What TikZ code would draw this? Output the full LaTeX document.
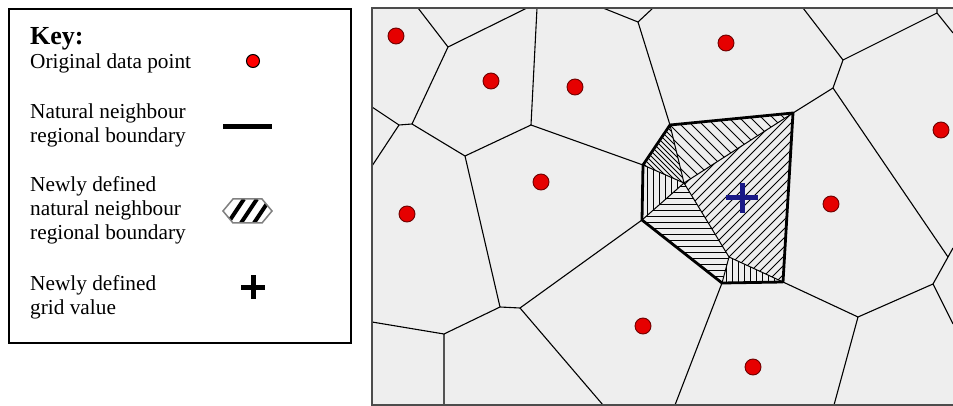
\documentclass[tikz,border=0pt]{standalone}
\usepackage{fontspec}
\setmainfont{Liberation Serif}
\definecolor{mapbg}{RGB}{238,238,238}
\definecolor{dotred}{RGB}{230,0,0}
\definecolor{dotrim}{RGB}{110,0,0}
\definecolor{navy}{RGB}{25,25,135}
\begin{document}
\begin{tikzpicture}[x=1pt,y=-1pt,
  vedge/.style={line width=1.1pt,black},
  hatch/.style={line width=0.8pt,black},
  divider/.style={line width=1pt,black},
  nnbound/.style={line width=2.8pt,black,line join=round},
  keytext/.style={anchor=base west,inner sep=0pt,font=\fontsize{21.3}{24}\selectfont},
  datadot/.style={circle,fill=dotred,draw=dotrim,line width=0.9pt,minimum size=16pt,inner sep=0pt}]
\useasboundingbox (0,0) rectangle (953,406);
\fill[white] (0,0) rectangle (953,406);

% ---------------- key ----------------
\draw[line width=2pt] (9,9) rectangle (351,343);
\node[anchor=base west,inner sep=0pt,font=\fontsize{26}{28}\selectfont\bfseries] (kh) at (30,45) {Key:};
\node[keytext] (k1) at (30,69) {Original data point};
\node[keytext] (k2a) at (30,119) {Natural neighbour};
\node[keytext] (k2b) at (30,143) {regional boundary};
\node[keytext] (k3a) at (30,192) {Newly defined};
\node[keytext] (k3b) at (30,216) {natural neighbour};
\node[keytext] (k3c) at (30,240) {regional boundary};
\node[keytext] (k4a) at (30,290) {Newly defined};
\node[keytext] (k4b) at (30,314) {grid value};
\node[circle,fill=red,draw=black,line width=1pt,minimum size=13pt,inner sep=0pt] (ks1) at (253,61) {};
\draw[line width=5pt] (223,127) -- (272,127);
\fill[white] (223,211) -- (233,199) -- (262,199) -- (272,211) -- (262,223) -- (233,223) -- cycle;
\begin{scope}
  \clip (223,211) -- (233,199) -- (262,199) -- (272,211) -- (262,223) -- (233,223) -- cycle;
  \foreach \c in {236,249,262} \draw[line width=4pt] (\c-8,223) -- (\c+8,199);
\end{scope}
\draw[gray,line width=1.5pt] (223,211) -- (233,199) -- (262,199) -- (272,211) -- (262,223) -- (233,223) -- cycle;
\draw[line width=5pt] (241,287) -- (265,287) (253,275) -- (253,299);

% ---------------- map ----------------
\fill[mapbg] (372,8) rectangle (953,405);

% boundary points
\coordinate (t1) at (418,8);  \coordinate (t2) at (527,8);  \coordinate (t3) at (537,8);
\coordinate (t4) at (603,8);  \coordinate (t5) at (653,8);  \coordinate (t6) at (803,8);
\coordinate (t7) at (937,8);
\coordinate (l1) at (372,107); \coordinate (l2) at (372,166); \coordinate (l3) at (372,322);
\coordinate (b1) at (444,405); \coordinate (b2) at (603,405); \coordinate (b3) at (675,405);
\coordinate (b4) at (834,405);
\coordinate (r1) at (953,33); \coordinate (r2) at (953,248); \coordinate (r3) at (953,324);
% Voronoi vertices
\coordinate (A) at (448,47);  \coordinate (B) at (531,125);
\coordinate (C1) at (399,125); \coordinate (C2) at (412,124);
\coordinate (D) at (465,156); \coordinate (E1) at (500,307); \coordinate (E2) at (520,308);
\coordinate (G) at (638,22);  \coordinate (H) at (833,88);  \coordinate (I) at (843,60);
\coordinate (J) at (937,13);  \coordinate (K) at (948,257); \coordinate (L) at (933,284);
\coordinate (M) at (858,317); \coordinate (N) at (444,334);
% natural neighbour polygon
\coordinate (P1) at (670,125); \coordinate (P2) at (793,113); \coordinate (P3) at (783,282);
\coordinate (P4) at (722,283); \coordinate (P5) at (642,220); \coordinate (P6) at (643,165);
\coordinate (V) at (684,183);  \coordinate (W) at (729,257);

\draw[vedge] (t1)--(A) (A)--(t2) (A)--(C2) (t3)--(B) (C1)--(C2) (C1)--(l1) (C1)--(l2)
  (C2)--(D) (D)--(B) (D)--(E1) (B)--(P6) (E1)--(E2) (E1)--(N) (N)--(l3) (N)--(b1)
  (E2)--(P5) (E2)--(b2) (P1)--(G) (G)--(t4) (G)--(t5) (P2)--(H) (H)--(I) (I)--(t6)
  (I)--(J) (J)--(t7) (J)--(r1) (H)--(K) (K)--(r2) (K)--(L) (L)--(r3) (L)--(M)
  (M)--(P3) (M)--(b4) (P4)--(b3);

% hatched sub-regions
\fill[mapbg] (P1)--(P2)--(P3)--(P4)--(P5)--(P6)--cycle;
\begin{scope}
  \clip (P1)--(P2)--(V)--cycle;
  \foreach \c in {490,501,...,700} \draw[hatch] (\c-300,-300)--(\c+300,300);
\end{scope}
\begin{scope}
  \clip (V)--(P2)--(P3)--(W)--cycle;
  \foreach \c in {860,869,...,1080} \draw[hatch] (\c-300,300)--(\c+300,-300);
\end{scope}
\begin{scope}
  \clip (P6)--(P1)--(V)--cycle;
  \foreach \c in {470,475,...,560} \draw[hatch] (\c-300,-300)--(\c+300,300);
\end{scope}
\begin{scope}
  \clip (P6)--(V)--(P5)--cycle;
  \foreach \x in {641,647,...,690} \draw[hatch] (\x,150)--(\x,240);
\end{scope}
\begin{scope}
  \clip (P5)--(V)--(W)--(P4)--cycle;
  \foreach \y in {180,186,...,290} \draw[hatch] (630,\y)--(740,\y);
\end{scope}
\begin{scope}
  \clip (W)--(P3)--(P4)--cycle;
  \foreach \x in {720,726,...,790} \draw[hatch] (\x,250)--(\x,290);
\end{scope}
\draw[divider] (V)--(P1) (V)--(P2) (V)--(W) (W)--(P3) (W)--(P4) (V)--(P5) (V)--(P6);
\draw[nnbound] (P1)--(P2)--(P3)--(P4)--(P5)--(P6)--cycle;

% new grid value
\draw[navy,line width=5pt] (726,198)--(758,198) (742,183)--(742,213);

% original data points
\node[datadot] (d1) at (396,36) {};
\node[datadot] (d2) at (491,81) {};
\node[datadot] (d3) at (575,87) {};
\node[datadot] (d4) at (541,182) {};
\node[datadot] (d5) at (726,43) {};
\node[datadot] (d6) at (941,130) {};
\node[datadot] (d7) at (407,214) {};
\node[datadot] (d8) at (643,326) {};
\node[datadot] (d9) at (831,204) {};
\node[datadot] (d10) at (753,367) {};

% map frame
\draw[black!70,line width=1.5pt] (953,8)--(372,8)--(372,405)--(953,405);
\end{tikzpicture}
\end{document}
